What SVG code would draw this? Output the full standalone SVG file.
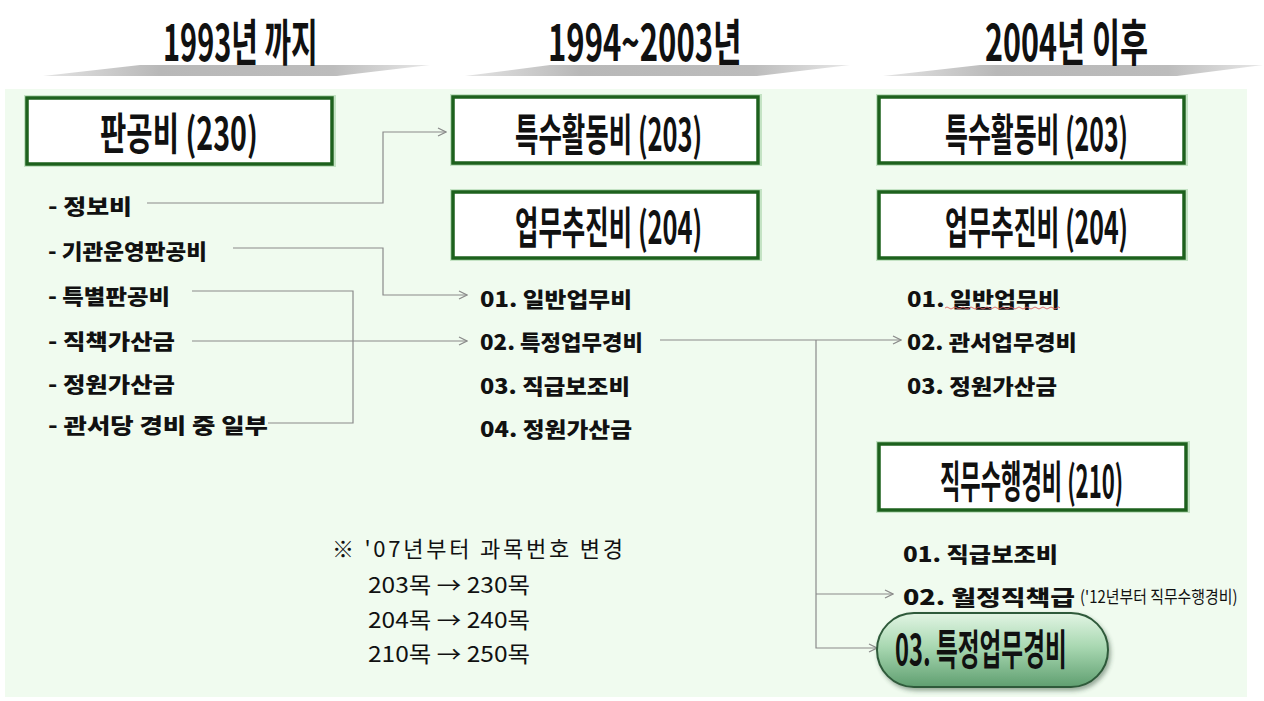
<svg xmlns="http://www.w3.org/2000/svg" width="1264" height="701" viewBox="0 0 1264 701">
<defs>
<linearGradient id="wedge" x1="0" y1="0" x2="1" y2="0">
<stop offset="0" stop-color="#e4e4e4"/>
<stop offset="0.3" stop-color="#b8b8b8"/>
<stop offset="0.75" stop-color="#bcbcbc"/>
<stop offset="1" stop-color="#e8e8e8"/>
</linearGradient>
<linearGradient id="pill" x1="0" y1="0" x2="0" y2="1">
<stop offset="0" stop-color="#e2f5e4"/>
<stop offset="0.45" stop-color="#a9d8b2"/>
<stop offset="1" stop-color="#5f9f70"/>
</linearGradient>
<filter id="shadow" x="-10%" y="-20%" width="125%" height="150%">
<feDropShadow dx="2" dy="3" stdDeviation="2" flood-color="#2c4a33" flood-opacity="0.45"/>
</filter>
<marker id="arr" viewBox="0 0 10 10" refX="9" refY="5" markerWidth="10" markerHeight="10" markerUnits="userSpaceOnUse" orient="auto">
<path d="M1,1 L9,5 L1,9" fill="none" stroke="#8a8a8a" stroke-width="1.2"/>
</marker>
</defs>
<style>
.hd{font-family:"Noto Sans CJK KR","Noto Sans",sans-serif;font-weight:700;fill:#111;font-size:50px;}
.box{fill:#fff;stroke:#1d611d;stroke-width:3.5;}
.glow{fill:none;stroke:#c4e3c4;stroke-width:2;}
.bt{font-family:"Noto Sans CJK KR","Noto Sans",sans-serif;font-weight:700;fill:#111;font-size:44px;}
.it{font-family:"Noto Sans CJK KR","Noto Sans",sans-serif;font-weight:800;fill:#111;font-size:21px;}
.nt{font-family:"Noto Sans CJK KR","Noto Sans",sans-serif;font-weight:400;fill:#111;font-size:22px;}
.cn{fill:none;stroke:#8a8a8a;stroke-width:1.2;}
</style>
<rect width="1264" height="701" fill="#ffffff"/>
<rect x="5" y="89" width="1242" height="608" fill="#f0fbef"/>

<g id="headers">
<polygon points="43,76 140,65 430,65 337,76" fill="url(#wedge)"/>
<polygon points="465,76 550,65 850,65 757,76" fill="url(#wedge)"/>
<polygon points="883,76 980,65 1263,65 1177,76" fill="url(#wedge)"/>
<text class="hd" transform="translate(163,39) scale(0.65,1)" dominant-baseline="central" textLength="238" lengthAdjust="spacingAndGlyphs">1993년 까지</text>
<text class="hd" transform="translate(548,39) scale(0.65,1)" dominant-baseline="central" textLength="298" lengthAdjust="spacingAndGlyphs">1994~2003년</text>
<text class="hd" transform="translate(985,39) scale(0.65,1)" dominant-baseline="central" textLength="251" lengthAdjust="spacingAndGlyphs">2004년 이후</text>
</g>

<g id="connectors">
<path class="cn" d="M147,203 H383 V132 H446" marker-end="url(#arr)"/>
<path class="cn" d="M233,248 H383 V295 H467" marker-end="url(#arr)"/>
<path class="cn" d="M192,291 H353 V423 H268"/>
<path class="cn" d="M192,341 H467" marker-end="url(#arr)"/>
<path class="cn" d="M660,340 H901" marker-end="url(#arr)"/>
<path class="cn" d="M816,340 V648 H877" marker-end="url(#arr)"/>
<path class="cn" d="M816,594 H893" marker-end="url(#arr)"/>
</g>

<g id="n-pangongbi">
<rect class="glow" x="25" y="96" width="310" height="70"/>
<rect class="box" x="27" y="98" width="305" height="66"/>
<text class="bt" transform="translate(100,131) scale(0.66,1)" dominant-baseline="central" textLength="239" lengthAdjust="spacingAndGlyphs">판공비 (230)</text>
</g>
<g id="n-left-items">
<text class="it" x="48" y="205" dominant-baseline="central" textLength="84" lengthAdjust="spacingAndGlyphs">- 정보비</text>
<text class="it" x="48" y="250" dominant-baseline="central" textLength="159" lengthAdjust="spacingAndGlyphs">- 기관운영판공비</text>
<text class="it" x="48" y="295" dominant-baseline="central" textLength="122" lengthAdjust="spacingAndGlyphs">- 특별판공비</text>
<text class="it" x="48" y="340" dominant-baseline="central" textLength="127" lengthAdjust="spacingAndGlyphs">- 직책가산금</text>
<text class="it" x="48" y="383" dominant-baseline="central" textLength="127" lengthAdjust="spacingAndGlyphs">- 정원가산금</text>
<text class="it" x="48" y="424" dominant-baseline="central" textLength="220" lengthAdjust="spacingAndGlyphs">- 관서당 경비 중 일부</text>
</g>

<g id="n-mid-203">
<rect class="glow" x="451" y="95" width="310" height="70"/>
<rect class="box" x="453" y="97" width="305" height="66"/>
<text class="bt" transform="translate(515,132) scale(0.6,1)" dominant-baseline="central" textLength="312" lengthAdjust="spacingAndGlyphs">특수활동비 (203)</text>
</g>
<g id="n-mid-204">
<rect class="glow" x="451" y="190" width="310" height="70"/>
<rect class="box" x="453" y="192" width="305" height="66"/>
<text class="bt" transform="translate(515,225) scale(0.6,1)" dominant-baseline="central" textLength="312" lengthAdjust="spacingAndGlyphs">업무추진비 (204)</text>
</g>
<g id="n-mid-items">
<text class="it" x="480" y="298" dominant-baseline="central" textLength="152" lengthAdjust="spacingAndGlyphs">01. 일반업무비</text>
<text class="it" x="480" y="341" dominant-baseline="central" textLength="163" lengthAdjust="spacingAndGlyphs">02. 특정업무경비</text>
<text class="it" x="480" y="385" dominant-baseline="central" textLength="150" lengthAdjust="spacingAndGlyphs">03. 직급보조비</text>
<text class="it" x="480" y="428" dominant-baseline="central" textLength="152" lengthAdjust="spacingAndGlyphs">04. 정원가산금</text>
</g>

<g id="n-right-203">
<rect class="glow" x="877" y="95" width="310" height="70"/>
<rect class="box" x="879" y="97" width="305" height="66"/>
<text class="bt" transform="translate(945,132) scale(0.6,1)" dominant-baseline="central" textLength="305" lengthAdjust="spacingAndGlyphs">특수활동비 (203)</text>
</g>
<g id="n-right-204">
<rect class="glow" x="877" y="190" width="310" height="70"/>
<rect class="box" x="879" y="192" width="305" height="66"/>
<text class="bt" transform="translate(945,225) scale(0.6,1)" dominant-baseline="central" textLength="305" lengthAdjust="spacingAndGlyphs">업무추진비 (204)</text>
</g>
<g id="n-right-items">
<text class="it" x="907" y="298" dominant-baseline="central" textLength="153" lengthAdjust="spacingAndGlyphs">01. 일반업무비</text>
<path d="M945,308 q2,-2 4,0 t4,0 t4,0 t4,0 t4,0 t4,0 t4,0 t4,0 t4,0 t4,0 t4,0 t4,0 t4,0 t4,0 t4,0 t4,0 t4,0 t4,0 t4,0 t4,0 t4,0 t4,0 t4,0 t4,0 t4,0 t4,0 t4,0 t4,0 t3,0" fill="none" stroke="#e06060" stroke-width="0.9"/>
<text class="it" x="907" y="341" dominant-baseline="central" textLength="170" lengthAdjust="spacingAndGlyphs">02. 관서업무경비</text>
<text class="it" x="907" y="385" dominant-baseline="central" textLength="150" lengthAdjust="spacingAndGlyphs">03. 정원가산금</text>
</g>

<g id="n-right-210">
<rect class="glow" x="877" y="442" width="312" height="70"/>
<rect class="box" x="879" y="444" width="307" height="66"/>
<text class="bt" transform="translate(940,479) scale(0.55,1)" dominant-baseline="central" textLength="333" lengthAdjust="spacingAndGlyphs">직무수행경비 (210)</text>
</g>
<g id="n-right-210-items">
<text class="it" x="903" y="553" dominant-baseline="central" textLength="155" lengthAdjust="spacingAndGlyphs">01. 직급보조비</text>
<text class="it" x="903" y="596" dominant-baseline="central" textLength="172" lengthAdjust="spacingAndGlyphs">02. 월정직책급</text>
<text transform="translate(1080,596) scale(0.75,1)" dominant-baseline="central" font-family="'Noto Sans CJK KR','Noto Sans',sans-serif" font-size="17" fill="#111" textLength="210" lengthAdjust="spacingAndGlyphs">('12년부터 직무수행경비)</text>
</g>

<g id="n-pill">
<rect x="877" y="613" width="231" height="74" rx="37" ry="37" fill="url(#pill)" stroke="#2f5a3a" stroke-width="2" filter="url(#shadow)"/>
<text transform="translate(895,646) scale(0.62,1)" dominant-baseline="central" font-family="'Noto Sans CJK KR','Noto Sans',sans-serif" font-weight="700" font-size="42" fill="#111" textLength="277" lengthAdjust="spacingAndGlyphs">03. 특정업무경비</text>
</g>

<g id="n-note">
<text class="nt" x="332" y="547" dominant-baseline="central" textLength="291" lengthAdjust="spacing">※ '07년부터 과목번호 변경</text>
<text class="nt" x="368" y="583" dominant-baseline="central" textLength="162" lengthAdjust="spacingAndGlyphs">203목 → 230목</text>
<text class="nt" x="368" y="618" dominant-baseline="central" textLength="162" lengthAdjust="spacingAndGlyphs">204목 → 240목</text>
<text class="nt" x="368" y="652" dominant-baseline="central" textLength="162" lengthAdjust="spacingAndGlyphs">210목 → 250목</text>
</g>
</svg>
